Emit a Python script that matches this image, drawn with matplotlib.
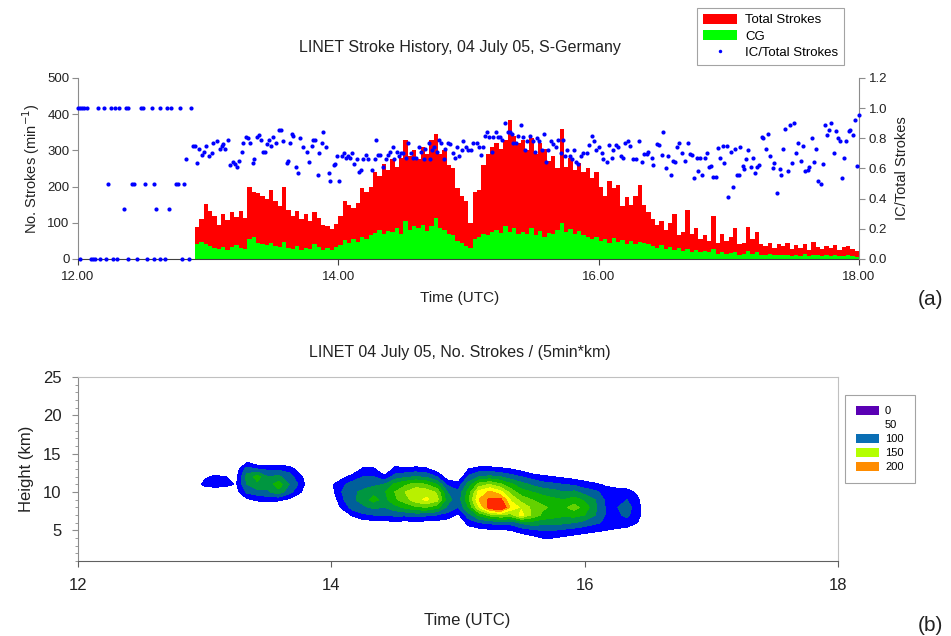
import matplotlib
matplotlib.use('Agg')
import matplotlib.pyplot as plt
import numpy as np
from matplotlib.patches import Patch
from matplotlib.lines import Line2D
from matplotlib.ticker import MultipleLocator

plt.rcParams['font.family'] = ['Liberation Sans', 'DejaVu Sans']

# ----------------------------------------------------------------------
# (a) stroke history, 2-minute bins starting 12:54 UTC (minutes after 12:00)
# ----------------------------------------------------------------------
BIN_START = 54
BIN_MIN = 2

total_strokes = [
    88, 110, 152, 132, 118, 95, 124, 108, 130, 115, 132, 112, 198, 185, 182,
    175, 165, 190, 160, 145, 200, 135, 120, 132, 110, 125, 105, 130, 112, 95,
    90, 82, 98, 120, 160, 150, 140, 155, 195, 185, 200, 240, 230, 262, 245,
    275, 255, 280, 330, 285, 300, 275, 310, 290, 330, 345, 290, 300, 260, 250,
    195, 175, 160, 100, 185, 190, 260, 290, 310, 320, 305, 330, 385, 340, 320,
    330, 300, 335, 290, 320, 305, 270, 285, 250, 360, 255, 280, 245, 265, 240,
    250, 225, 240, 200, 175, 215, 195, 205, 145, 170, 150, 175, 205, 150, 130,
    110, 95, 105, 80, 100, 125, 65, 75, 135, 70, 85, 55, 65, 50, 120,
    45, 70, 50, 60, 85, 40, 45, 88, 55, 75, 40, 35, 45, 30, 40,
    35, 45, 28, 38, 30, 42, 25, 48, 32, 28, 35, 30, 38, 25, 32, 35, 28, 22,
]
cg_strokes = [
    42, 48, 40, 35, 30, 28, 32, 26, 34, 38, 30, 28, 55, 62, 45,
    40, 38, 45, 35, 32, 48, 30, 28, 35, 25, 30, 28, 40, 32, 25,
    30, 25, 32, 38, 52, 45, 55, 48, 60, 55, 65, 72, 80, 70, 78,
    75, 85, 70, 105, 80, 90, 85, 95, 78, 90, 112, 85, 80, 70, 65,
    50, 45, 35, 30, 55, 60, 70, 65, 75, 80, 72, 90, 75, 85, 70,
    75, 70, 85, 65, 78, 60, 72, 68, 80, 100, 75, 82, 70, 78, 65,
    60, 55, 62, 50, 55, 45, 58, 48, 52, 40, 50, 42, 48, 45, 40,
    35, 30, 38, 28, 32, 25, 30, 22, 28, 20, 25, 18, 22, 20, 28,
    15, 18, 15, 16, 20, 12, 14, 22, 15, 18, 12, 10, 14, 10, 12,
    10, 12, 8, 12, 9, 14, 8, 12, 10, 8, 10, 9, 12, 7, 9, 10, 8, 6,
]

# IC/Total ratio samples (minute after 12:00, ratio)
ratio_min = [
    0, 1, 2, 3, 4, 9, 12, 15, 17, 19,
    22, 23, 29, 30, 34, 38, 41, 43, 47, 52,
    14, 25, 26, 31, 35, 45, 46, 49, 21, 36,
    42, 1, 6, 7, 8, 10, 13, 16, 18, 23,
    27, 32, 35, 38, 40, 48, 51, 50,
    53, 54, 55, 56, 57, 58, 59, 60.5, 61.6, 62.4,
    64, 65.4, 66.2, 67, 68, 69.3, 70, 71.3, 72.4, 73.2,
    74.4, 75.4, 76, 77.4, 78.5, 79.3, 80.5, 81, 82.7, 83.4,
    84.4, 85.4, 86, 87.3, 88.2, 88.8, 90, 91.3, 92.8, 93.4,
    94.6, 96.2, 97, 97.7, 98.5, 99.3, 100.5, 101.6, 102.3, 103.6,
    105.4, 106.6, 107.7, 108.5, 109.3, 110.8, 111.2, 112.4, 113.1, 114.2,
    115.5, 116.2, 117.8, 118.5, 119.3, 120.4, 121.6, 122.4, 123.4, 124.7,
    125.4, 126.5, 127.4, 128.5, 129.6, 130.5, 131.6, 132.7, 133.9, 135.4,
    136.7, 137.4, 138.2, 139.3, 140.8, 141.9, 142.8, 143.9, 145, 145.9,
    147, 148, 149, 150, 151, 152.3, 153.6, 154.6, 155.7, 157,
    158.2, 159.3, 160, 161.6, 162.3, 163.4, 164.3, 165.4, 166.5, 167.4,
    168.5, 169.2, 170.5, 171.5, 172.7, 173.8, 174.9, 175.8, 176.9, 177.6,
    178.9, 180, 181, 182.3, 183.8, 185, 185.8, 186.9, 187.6, 188.7,
    189.6, 190.7, 191.5, 192.7, 193.8, 194.6, 195.3, 196.9, 198, 199.2,
    199.9, 200.7, 201.9, 203, 204, 205, 206, 207.2, 208.4, 209.6,
    210.7, 211.8, 212.7, 213.8, 214.8, 215.8, 216.8, 217.9, 219.1, 220.4,
    221.5, 222.5, 223.8, 224.5, 225.6, 226.8, 227.6, 228.7, 229.6, 230.7,
    231.8, 233, 234.5, 235.5, 236.8, 238, 239, 240.2, 241.4, 242.2,
    243.7, 244.8, 246, 246.8, 247.8, 249, 250.3, 251.4, 252.1, 253.4,
    254.5, 256, 257, 258.6, 259.8, 261, 262.1, 262.9, 264.4, 265.2,
    266.7, 267.8, 269, 269.8, 270.9, 272.1, 273.2, 274.4, 275.2, 276.3,
    277, 278.3, 279.8, 281, 282.1, 282.9, 284.1, 285.2, 286, 286.7,
    287.8, 289, 289.8, 290.9, 291.8, 292.9, 294, 295.2, 296, 297.2,
    297.8, 299, 299.8, 300.9, 301.8, 302.9, 304, 304.5, 305.2, 306.5,
    307, 308, 309, 310.1, 311, 312.1, 313.2, 314.1, 315.2, 316,
    317.2, 318.3, 319, 320.3, 321, 322.1, 323.4, 324.1, 325.2, 326,
    327.5, 328, 329, 330.1, 331, 332.1, 333.2, 334.1, 335.2, 336.3,
    337.2, 338.3, 339.3, 340.3, 341.3, 342.4, 343.3, 344.4, 345.2, 346.3,
    347.2, 348.3, 349.3, 350.3, 351.3, 352.4, 353.2, 354.1, 355.2, 356,
    357.2, 358.2, 359, 360,
]
ratio_val = [
    1.0, 1.0, 1.0, 1.0, 1.0, 1.0, 1.0, 1.0, 1.0, 1.0,
    1.0, 1.0, 1.0, 1.0, 1.0, 1.0, 1.0, 1.0, 1.0, 1.0,
    0.5, 0.5, 0.5, 0.5, 0.5, 0.5, 0.5, 0.5, 0.33, 0.33,
    0.33, 0.0, 0.0, 0.0, 0.0, 0.0, 0.0, 0.0, 0.0, 0.0,
    0.0, 0.0, 0.0, 0.0, 0.0, 0.0, 0.0, 0.66,
    .75, .75, .635, .73, .69, .71, .75, .68, .70, .77,
    .78, .73, .75, .76, .73, .79, .62, .645, .63, .61,
    .65, .71, .77, .81, .80, .77, .635, .66, .81, .82,
    .79, .71, .71, .76, .79, .75, .81, .77, .855, .855,
    .78, .635, .65, .77, .83, .815, .61, .57, .80, .745,
    .71, .645, .75, .79, .79, .56, .70, .77, .845, .745,
    .57, .52, .62, .63, .685, .52, .68, .70, .67, .68,
    .67, .70, .63, .66, .575, .59, .66, .69, .66, .59,
    .66, .79, .69, .69, .61, .66, .69, .71, .745, .66,
    .71, .68, .70, .70, .67, .77, .70, .67, .67, .745,
    .71, .66, .73, .77, .66, .725, .745, .71, .79, .77,
    .66, .73, .77, .76, .70, .67, .74, .68, .72, .78,
    .74, .72, .72, .77, .77, .74, .69, .74, .815, .84,
    .81, .71, .81, .845, .81, .81, .79, .90, .845, .845,
    .83, .77, .77, .815, .89, .81, .72, .785, .815, .78,
    .71, .805, .78, .72, .83, .64, .72, .78, .76, .745,
    .79, .70, .79, .68, .72, .68, .66, .72, .645, .63,
    .68, .70, .70, .755, .815, .78, .72, .74, .70, .66,
    .645, .755, .67, .72, .755, .745, .68, .67, .77, .785,
    .75, .66, .66, .785, .64, .695, .695, .71, .67, .62,
    .76, .755, .69, .84, .60, .685, .56, .65, .64, .745,
    .77, .70, .65, .77, .695, .69, .535, .67, .585, .67,
    .56, .67, .70, .61, .615, .545, .545, .735, .67, .75,
    .635, .75, .41, .71, .48, .73, .56, .56, .74, .615,
    .595, .66, .72, .61, .67, .57, .61, .62, .81, .80,
    .73, .83, .68, .60, .635, .44, .595, .56, .73, .865,
    .58, .889, .635, .90, .705, .77, .65, .75, .58, .59,
    .61, .805, .645, .73, .52, .50, .63, .89, .82, .855,
    .90, .70, .85, .80, .785, .535, .67, .78, .85, .855,
    .82, .92, .615, .955,
]

# ----------------------------------------------------------------------
# (b) strokes per (5 min * km): one column per 5 minutes from 12:55,
#     values for heights 3..15 km
# ----------------------------------------------------------------------
DENS_START = 55
DENS_STEP = 5
dens_heights = [3, 4, 5, 6, 7, 8, 9, 10, 11, 12, 13, 14, 15]
density_cols = [
    [0, 0, 0, 0, 0, 0, 0, 0, 0, 0, 0, 0, 0],
    [0, 0, 0, 0, 0, 0, 0, 0, 35, 20, 0, 0, 0],
    [0, 0, 0, 0, 0, 0, 0, 0, 40, 30, 0, 0, 0],
    [0, 0, 0, 0, 0, 0, 0, 0, 35, 25, 0, 0, 0],
    [0, 0, 0, 0, 0, 0, 0, 15, 22, 20, 10, 0, 0],
    [0, 0, 0, 0, 0, 0, 20, 55, 75, 85, 60, 20, 0],
    [0, 0, 0, 0, 0, 0, 30, 65, 95, 110, 50, 0, 0],
    [0, 0, 0, 0, 0, 0, 35, 70, 85, 75, 45, 0, 0],
    [0, 0, 0, 0, 0, 0, 30, 90, 115, 80, 45, 0, 0],
    [0, 0, 0, 0, 0, 0, 20, 60, 75, 60, 40, 0, 0],
    [0, 0, 0, 0, 0, 0, 0, 30, 45, 35, 10, 0, 0],
    [0, 0, 0, 0, 0, 0, 0, 0, 0, 0, 0, 0, 0],
    [0, 0, 0, 0, 0, 0, 0, 0, 0, 0, 0, 0, 0],
    [0, 0, 0, 0, 0, 0, 0, 15, 20, 0, 0, 0, 0],
    [0, 0, 0, 0, 0, 30, 45, 50, 45, 15, 0, 0, 0],
    [0, 0, 0, 0, 30, 60, 70, 70, 60, 35, 0, 0, 0],
    [0, 0, 0, 10, 45, 70, 85, 80, 65, 50, 30, 0, 0],
    [0, 0, 0, 15, 50, 80, 110, 90, 70, 50, 30, 0, 0],
    [0, 0, 0, 15, 50, 75, 90, 95, 75, 30, 0, 0, 0],
    [0, 0, 0, 20, 55, 90, 120, 125, 105, 60, 30, 15, 0],
    [0, 0, 0, 15, 55, 105, 140, 150, 120, 70, 30, 0, 0],
    [0, 0, 0, 20, 60, 120, 165, 170, 135, 75, 35, 0, 0],
    [0, 0, 0, 15, 55, 125, 180, 165, 125, 70, 30, 0, 0],
    [0, 0, 0, 15, 50, 110, 160, 145, 100, 50, 10, 0, 0],
    [0, 0, 0, 10, 40, 70, 85, 75, 45, 10, 0, 0, 0],
    [0, 0, 0, 0, 20, 50, 60, 55, 35, 0, 0, 0, 0],
    [0, 0, 10, 35, 65, 100, 120, 110, 85, 55, 25, 0, 0],
    [0, 0, 15, 50, 105, 175, 200, 185, 135, 75, 35, 0, 0],
    [0, 0, 20, 55, 135, 240, 230, 205, 150, 80, 35, 0, 0],
    [0, 0, 20, 60, 150, 265, 235, 185, 130, 75, 30, 0, 0],
    [0, 0, 25, 60, 140, 195, 170, 140, 105, 60, 25, 0, 0],
    [0, 10, 35, 80, 185, 170, 140, 110, 85, 50, 15, 0, 0],
    [0, 15, 45, 90, 145, 145, 125, 100, 70, 40, 0, 0, 0],
    [0, 25, 50, 85, 120, 130, 115, 90, 60, 30, 0, 0, 0],
    [0, 25, 50, 85, 110, 120, 105, 85, 55, 25, 0, 0, 0],
    [0, 20, 45, 80, 105, 120, 100, 75, 50, 20, 0, 0, 0],
    [0, 15, 40, 75, 110, 135, 110, 80, 45, 15, 0, 0, 0],
    [0, 10, 35, 65, 100, 115, 95, 65, 35, 10, 0, 0, 0],
    [0, 5, 30, 55, 75, 80, 75, 55, 30, 0, 0, 0, 0],
    [0, 0, 25, 45, 48, 48, 45, 40, 20, 0, 0, 0, 0],
    [0, 0, 20, 40, 45, 48, 45, 35, 15, 0, 0, 0, 0],
    [0, 0, 15, 40, 55, 62, 50, 35, 10, 0, 0, 0, 0],
    [0, 0, 0, 25, 35, 35, 30, 20, 0, 0, 0, 0, 0],
    [0, 0, 0, 0, 0, 0, 0, 0, 0, 0, 0, 0, 0],
    [0, 0, 0, 0, 0, 0, 0, 0, 0, 0, 0, 0, 0],
]
dens_levels = [25, 50, 75, 100, 125, 150, 175, 200, 225, 1000]
dens_colors = ['#0000ff', '#00609a', '#009640', '#10b400', '#64d200',
               '#b9f000', '#ffff00', '#ffa000', '#ff2800']

legend_b_labels = ['0', '50', '100', '150', '200']
legend_b_colors = ['#5a00b4', 'none', '#0a6eb4', '#b4ff00', '#ff8c00']

INK = '#222222'
GRAY = '#8c8c8c'

fig = plt.figure(figsize=(9.51, 6.36), dpi=100)

# ----------------------------------------------------------------------
# Panel (a)
# ----------------------------------------------------------------------
ax1 = fig.add_axes([0.0820, 0.5928, 0.8212, 0.2846])
bar_hours = 12 + (BIN_START + BIN_MIN * np.arange(len(total_strokes))) / 60
ax1.bar(bar_hours, total_strokes, width=BIN_MIN / 60, align='edge',
        color='#ff0000', linewidth=0)
ax1.bar(bar_hours, cg_strokes, width=BIN_MIN / 60, align='edge',
        color='#00ff00', linewidth=0)
ax1.set_xlim(12, 18)
ax1.set_ylim(0, 500)
ax1.set_xticks([12, 14, 16, 18])
ax1.set_xticklabels(['12.00', '14.00', '16.00', '18.00'])
ax1.set_yticks(range(0, 501, 100))
ax1.tick_params(axis='x', direction='out', length=4, pad=5,
                labelsize=9.5, colors='#404040', labelcolor=INK)
ax1.tick_params(axis='y', direction='out', length=4, pad=2,
                labelsize=9.5, colors=GRAY, labelcolor=INK)
ax1.spines['top'].set_visible(False)
ax1.spines['right'].set_visible(False)
ax1.spines['left'].set_color(GRAY)
ax1.spines['bottom'].set_color('#404040')
ax1.set_ylabel('No. Strokes (min$^{-1}$)', fontsize=10.5, color=INK, labelpad=4)

ax2 = ax1.twinx()
ratio_hours = 12 + np.array(ratio_min) / 60
ax2.plot(ratio_hours, ratio_val, 'o', ms=3.0, color='#0000ff', mec='none',
         clip_on=False, zorder=5)
ax2.set_ylim(0, 1.2)
ax2.set_yticks([0.0, 0.2, 0.4, 0.6, 0.8, 1.0, 1.2])
ax2.set_yticklabels(['0.0', '0.2', '0.4', '0.6', '0.8', '1.0', '1.2'])
ax2.tick_params(axis='y', direction='out', length=4, pad=3,
                labelsize=9.5, colors=GRAY, labelcolor=INK)
for s in ('top', 'left', 'bottom'):
    ax2.spines[s].set_visible(False)
ax2.spines['right'].set_color(GRAY)
ax2.set_ylabel('IC/Total Strokes', fontsize=10.5, color=INK, labelpad=6)

fig.text(0.4837, 0.926, 'LINET Stroke History, 04 July 05, S-Germany',
         ha='center', va='center', fontsize=11.5, color=INK)
fig.text(0.4837, 0.531, 'Time (UTC)', ha='center', va='center',
         fontsize=11, color=INK)
fig.text(0.978, 0.529, '(a)', ha='center', va='center', fontsize=15, color=INK)

handles_a = [Patch(facecolor='#ff0000', edgecolor='none'),
             Patch(facecolor='#00ff00', edgecolor='none'),
             Line2D([], [], ls='none', marker='o', ms=2.5, color='#0000ff', mec='none')]
leg_a = fig.legend(handles_a, ['Total Strokes', 'CG', 'IC/Total Strokes'],
                   loc='upper left', bbox_to_anchor=(697 / 951, 1 - 8 / 636),
                   fontsize=9.5, frameon=True, fancybox=False, handlelength=2.6,
                   handleheight=0.75, handletextpad=0.6, labelspacing=0.3,
                   borderpad=0.45, borderaxespad=0)
leg_a.get_frame().set_edgecolor(GRAY)
leg_a.get_frame().set_linewidth(0.8)

# ----------------------------------------------------------------------
# Panel (b)
# ----------------------------------------------------------------------
ax3 = fig.add_axes([0.0820, 0.1179, 0.7992, 0.2893])
dens_hours = 12 + (DENS_START + DENS_STEP * np.arange(len(density_cols))) / 60
Z = np.array(density_cols, dtype=float).T
ax3.contourf(dens_hours, dens_heights, Z, levels=dens_levels, colors=dens_colors)
ax3.set_xlim(12, 18)
ax3.set_ylim(1, 25)
ax3.set_xticks([12, 14, 16, 18])
ax3.set_xticklabels(['12', '14', '16', '18'])
ax3.set_yticks([5, 10, 15, 20, 25])
ax3.yaxis.set_minor_locator(MultipleLocator(1))
ax3.tick_params(axis='x', direction='out', length=4, pad=8,
                labelsize=12, colors='#606060', labelcolor=INK)
ax3.tick_params(axis='y', which='major', direction='out', length=4, pad=8,
                labelsize=12, colors=GRAY, labelcolor=INK)
ax3.tick_params(axis='y', which='minor', direction='out', length=2.5, colors=GRAY)
for s in ('top', 'right'):
    ax3.spines[s].set_color('#c0c0c0')
ax3.spines['left'].set_color(GRAY)
ax3.spines['bottom'].set_color('#606060')
ax3.set_ylabel('Height (km)', fontsize=12, color=INK, labelpad=6)

fig.text(0.4837, 0.4465, 'LINET 04 July 05, No. Strokes / (5min*km)',
         ha='center', va='center', fontsize=11.5, color=INK)
fig.text(0.491, 0.025, 'Time (UTC)', ha='center', va='center',
         fontsize=12, color=INK)
fig.text(0.978, 0.017, '(b)', ha='center', va='center', fontsize=15, color=INK)

handles_b = [Patch(facecolor=c, edgecolor='none') for c in legend_b_colors]
leg_b = fig.legend(handles_b, legend_b_labels, loc='upper left',
                   bbox_to_anchor=(845 / 951, 1 - 395 / 636),
                   fontsize=8, frameon=True, fancybox=False, handlelength=2.1,
                   handleheight=0.8, handletextpad=0.5, labelspacing=0.35,
                   borderpad=1.0, borderaxespad=0)
leg_b.get_frame().set_edgecolor(GRAY)
leg_b.get_frame().set_linewidth(0.8)

fig.savefig('out.png', dpi=100)
